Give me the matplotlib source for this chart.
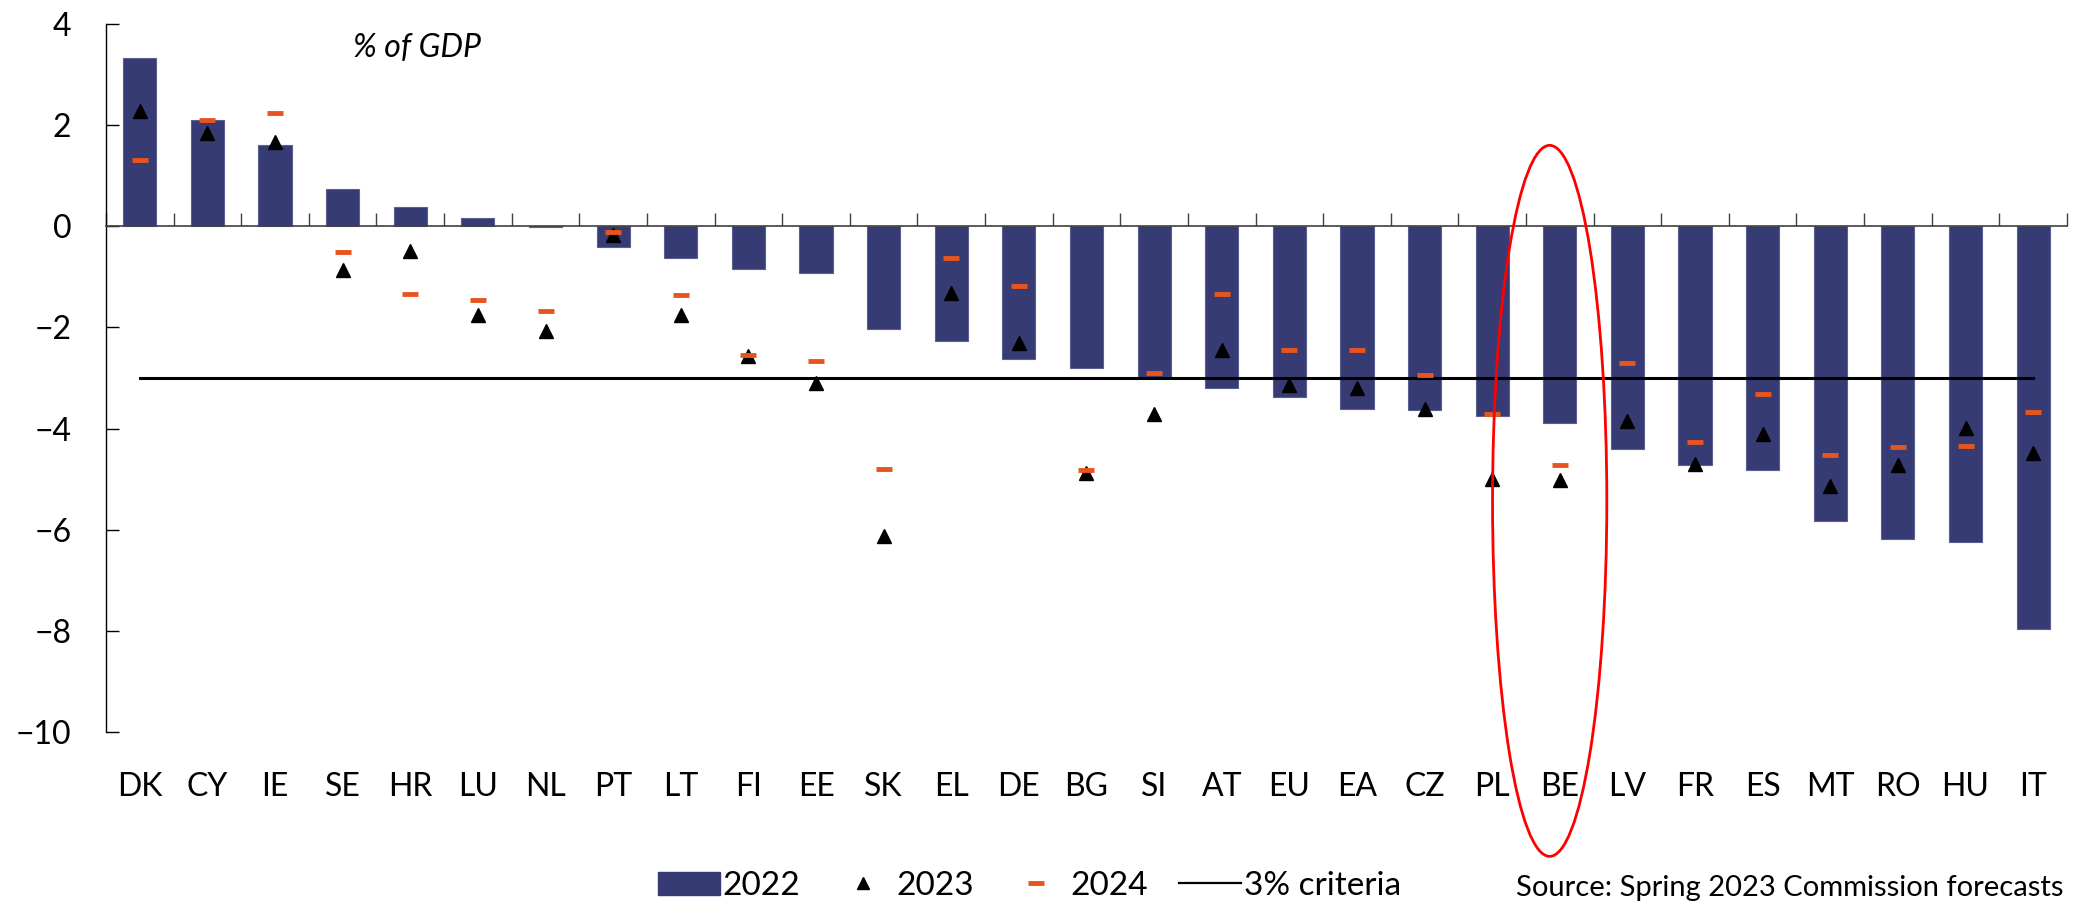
import numpy as np
import matplotlib
matplotlib.use('Agg')
import matplotlib.pyplot as plt
from matplotlib.patches import Ellipse, Patch
from matplotlib.lines import Line2D

plt.rcParams['font.family'] = ['Lato', 'DejaVu Sans']

# general government balance, % of GDP
countries = ['DK', 'CY', 'IE', 'SE', 'HR', 'LU', 'NL', 'PT', 'LT', 'FI', 'EE', 'SK', 'EL', 'DE', 'BG',
             'SI', 'AT', 'EU', 'EA', 'CZ', 'PL', 'BE', 'LV', 'FR', 'ES', 'MT', 'RO', 'HU', 'IT']
bal_2022 = [3.32, 2.11, 1.60, 0.74, 0.39, 0.17, -0.01, -0.40, -0.63, -0.85, -0.92, -2.04, -2.27, -2.62, -2.81,
            -2.98, -3.19, -3.37, -3.62, -3.64, -3.75, -3.89, -4.40, -4.72, -4.81, -5.82, -6.18, -6.25, -7.97]
bal_2023 = [2.27, 1.84, 1.66, -0.87, -0.48, -1.76, -2.07, -0.17, -1.76, -2.57, -3.10, -6.12, -1.31, -2.30, -4.87,
            -3.72, -2.45, -3.13, -3.19, -3.62, -4.99, -5.01, -3.85, -4.71, -4.10, -5.13, -4.73, -3.98, -4.48]
bal_2024 = [1.32, 2.10, 2.24, -0.50, -1.34, -1.46, -1.67, -0.12, -1.35, -2.55, -2.67, -4.79, -0.62, -1.19, -4.82,
            -2.90, -1.33, -2.45, -2.45, -2.95, -3.72, -4.73, -2.71, -4.26, -3.32, -4.53, -4.37, -4.35, -3.68]
criteria = -3.0
highlight = 'BE'

navy = '#363b73'
orange = '#e8541e'

fig = plt.figure(figsize=(20.87, 9.16), dpi=100)
ax = fig.add_axes([0.0508, 0.2009, 0.9396, 0.7729])

x = np.arange(len(countries))
ax.bar(x, bal_2022, width=0.49, color=navy, edgecolor='#5a5f92', linewidth=0.8, zorder=2)
ax.plot(x, np.full(len(x), criteria), color='black', lw=2.2, zorder=3)
ax.plot(x, bal_2023, ls='none', marker='^', ms=10, color='black', zorder=4)
ax.plot(x, bal_2024, ls='none', marker='_', ms=12, mew=3.5, color=orange, zorder=5)

ax.set_xlim(-0.5, len(countries) - 0.5)
ax.set_ylim(-10, 4)
ax.set_yticks(np.arange(-10, 5, 2))

# zero line as x axis, ticks between categories
ax.spines['top'].set_visible(False)
ax.spines['right'].set_visible(False)
ax.spines['bottom'].set_position(('data', 0))
ax.spines['bottom'].set_color('#404040')
ax.spines['bottom'].set_linewidth(1.2)
ax.spines['left'].set_linewidth(1.0)
ax.set_xticks(np.arange(-0.5, len(countries), 1.0))
ax.set_xticklabels([])
ax.tick_params(axis='x', direction='in', length=9.5, width=1.0, color='#404040')
ax.tick_params(axis='y', direction='in', length=9.5, width=1.0, labelsize=23, pad=25)

for i, c in enumerate(countries):
    ax.text(i, -0.078, c, transform=ax.get_xaxis_transform(), ha='center', va='center', fontsize=23)

ax.text(417 / 2087, 1 - 48 / 916, '% of GDP', transform=fig.transFigure, ha='center', va='center',
        fontsize=23, style='italic')

# red circle round Belgium
bi = countries.index(highlight)
ax.add_patch(Ellipse((bi - 0.15, -5.43), 1.69, 14.06, fill=False, edgecolor='red', lw=2.0,
                     clip_on=False, zorder=6))

handles = [Patch(facecolor=navy, edgecolor=navy),
           Line2D([], [], ls='none', marker='^', ms=8, color='black'),
           Line2D([], [], ls='none', marker='_', ms=11, mew=3.5, color=orange),
           Line2D([], [], color='black', lw=1.6)]
fig.legend(handles, ['2022', '2023', '2024', '3% criteria'], loc='center left',
           bbox_to_anchor=(0.301, 0.0328), ncol=4, frameon=False, fontsize=24,
           handlelength=1.85, handletextpad=0.08, columnspacing=0.95, borderpad=0.4)

fig.text(2063 / 2087, 1 - 888 / 916, 'Source: Spring 2023 Commission forecasts', ha='right', va='center',
         fontsize=21)

plt.savefig('out.png', dpi=100)
